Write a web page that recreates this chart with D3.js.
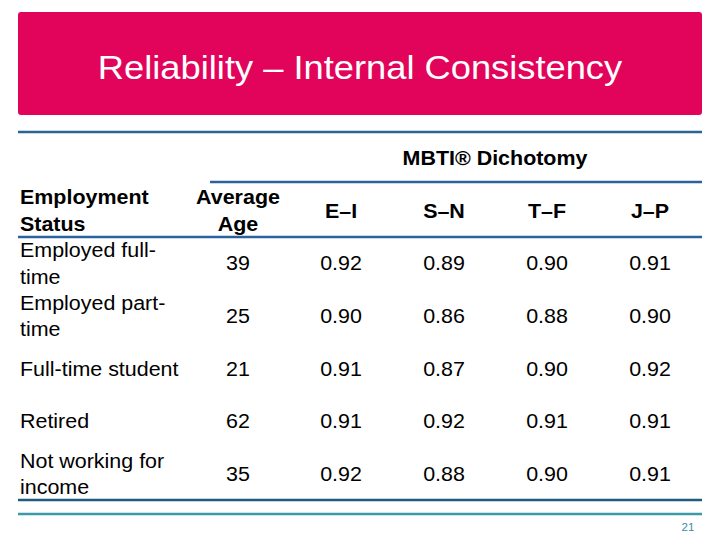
<!DOCTYPE html>
<html><head><meta charset="utf-8">
<script src="https://cdn.jsdelivr.net/npm/d3@7"></script>
<style>html,body{margin:0;padding:0;background:#fff;}svg{display:block;font-family:"Liberation Sans",Arial,sans-serif;}</style>
</head><body>
<svg id="chart" width="720" height="540"></svg>
<script>
const title = "Reliability – Internal Consistency";
const groupHeader = "MBTI® Dichotomy";
const rowHeader = ["Employment", "Status"];
const columns = ["Average Age", "E–I", "S–N", "T–F", "J–P"];
const columnLabels = [["Average", "Age"], ["E–I"], ["S–N"], ["T–F"], ["J–P"]];
const statuses = [["Employed full-", "time"], ["Employed part-", "time"], ["Full-time student"], ["Retired"], ["Not working for", "income"]];
const averageAge = [39, 25, 21, 62, 35];
const EI = [0.92, 0.90, 0.91, 0.91, 0.92];
const SN = [0.89, 0.86, 0.87, 0.92, 0.88];
const TF = [0.90, 0.88, 0.90, 0.91, 0.90];
const JP = [0.91, 0.90, 0.92, 0.91, 0.91];
const pageNumber = "21";

const svg = d3.select("#chart");
const SX = 1.1; // horizontal stretch of the slide
function txt(g, x, y, str, opts) {
  const t = g.append("g").attr("transform", `translate(${x},${y}) scale(${opts.sx || SX},1)`)
    .append("text")
    .attr("text-anchor", opts.anchor || "start")
    .attr("dominant-baseline", "central")
    .attr("font-size", opts.size)
    .attr("font-weight", opts.weight || "normal")
    .attr("fill", opts.fill || "#000")
    .text(str);
  return t;
}

// Banner
svg.append("rect").attr("x", 18).attr("y", 12).attr("width", 684).attr("height", 103).attr("rx", 3).attr("fill", "#E2045B");
txt(svg, 360, 68, title, {size: 33, anchor: "middle", fill: "#fff", sx: 1.1});

// Lines
svg.append("line").attr("x1", 18).attr("x2", 702).attr("y1", 132).attr("y2", 132).attr("stroke", "#2A6494").attr("stroke-width", 2.5);

const x = d3.scalePoint().domain(columns).range([238, 650]);
const y = d3.scaleBand().domain(d3.range(statuses.length)).range([237, 500]);
const lineGap = 26.5;

txt(svg, 495, 158, groupHeader, {size: 19.5, anchor: "middle", weight: "bold"});
svg.append("line").attr("x1", 210).attr("x2", 702).attr("y1", 182).attr("y2", 182).attr("stroke", "#2A62A0").attr("stroke-width", 2.5);

// Header row
const hy = 210.5;
rowHeader.forEach((s, i) => txt(svg, 20, hy + (i - (rowHeader.length - 1) / 2) * lineGap, s, {size: 19.5, weight: "bold"}));
columns.forEach((c, ci) => {
  const lab = columnLabels[ci];
  lab.forEach((s, i) => txt(svg, x(c), hy + (i - (lab.length - 1) / 2) * lineGap, s, {size: 19.5, weight: "bold", anchor: "middle"}));
});
svg.append("line").attr("x1", 18).attr("x2", 702).attr("y1", 237).attr("y2", 237).attr("stroke", "#2A62A0").attr("stroke-width", 2.5);

// Body rows
const series = [averageAge, EI, SN, TF, JP];
statuses.forEach((st, r) => {
  const cy = y(r) + y.bandwidth() / 2;
  st.forEach((s, i) => txt(svg, 20, cy + (i - (st.length - 1) / 2) * lineGap, s, {size: 19.5}));
  columns.forEach((c, ci) => {
    const v = series[ci][r];
    txt(svg, x(c), cy, ci === 0 ? String(v) : v.toFixed(2), {size: 19.5, anchor: "middle"});
  });
});

svg.append("line").attr("x1", 18).attr("x2", 702).attr("y1", 500).attr("y2", 500).attr("stroke", "#1F5C7E").attr("stroke-width", 2.5);
svg.append("line").attr("x1", 18).attr("x2", 702).attr("y1", 514).attr("y2", 514).attr("stroke", "#3C9AA8").attr("stroke-width", 2.5);
txt(svg, 688, 527, pageNumber, {size: 11.5, anchor: "middle", fill: "#3A8CA0", sx: 1});
</script>
</body></html>
